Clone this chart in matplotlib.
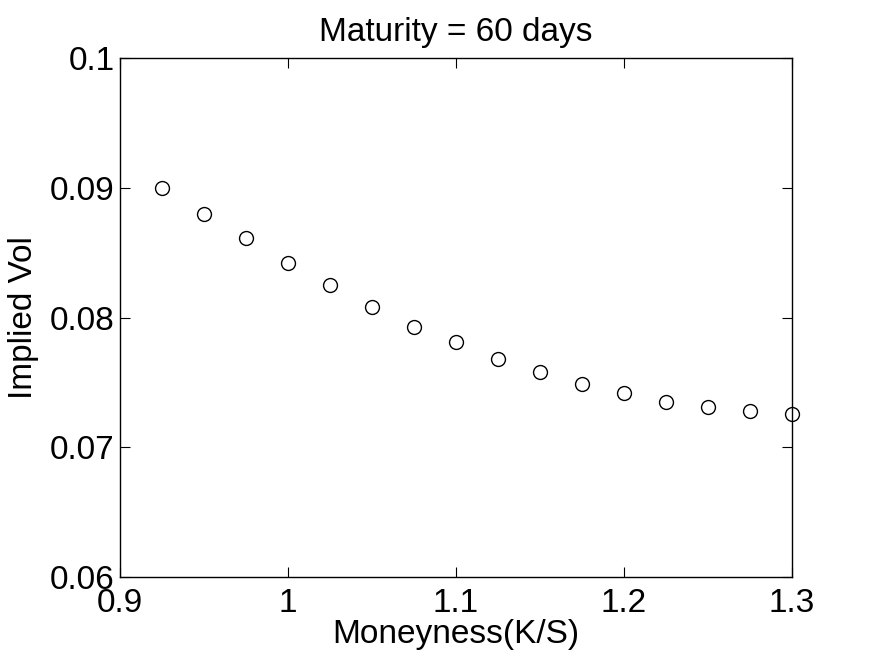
import numpy as np
import matplotlib
matplotlib.use('Agg')
import matplotlib.pyplot as plt

plt.rcParams['font.family'] = ['Liberation Sans', 'DejaVu Sans']

# moneyness grid and implied vols
moneyness = [0.925, 0.95, 0.975, 1.0, 1.025, 1.05, 1.075, 1.1,
             1.125, 1.15, 1.175, 1.2, 1.225, 1.25, 1.275, 1.3]
implied_vol = [0.0900, 0.0880, 0.0861, 0.0842, 0.0825, 0.0808, 0.0793, 0.0781,
               0.0768, 0.0758, 0.0749, 0.0742, 0.0735, 0.0731, 0.0728, 0.0726]
xticks = [0.9, 1.0, 1.1, 1.2, 1.3]
xticklabels = ['0.9', '1', '1.1', '1.2', '1.3']
yticks = [0.06, 0.07, 0.08, 0.09, 0.1]
yticklabels = ['0.06', '0.07', '0.08', '0.09', '0.1']

fig = plt.figure(figsize=(8.75, 6.59), dpi=100)
ax = fig.add_axes([0.1371, 0.1244, 0.768, 0.7876])
ax.plot(moneyness, implied_vol, 'o', mfc='none', mec='black', ms=10, mew=1.0,
        clip_on=False)
ax.set_xlim(0.9, 1.3)
ax.set_ylim(0.06, 0.1)
ax.set_xticks(xticks)
ax.set_xticklabels(xticklabels)
ax.set_yticks(yticks)
ax.set_yticklabels(yticklabels)
ax.tick_params(direction='in', top=True, right=True, length=7, width=0.8,
               labelsize=24)
ax.tick_params(axis='x', pad=8)
ax.tick_params(axis='y', pad=4)
for s in ax.spines.values():
    s.set_linewidth(1.0)
ax.set_xlabel('Moneyness(K/S)', fontsize=24, labelpad=0)
ax.set_ylabel('Implied Vol', fontsize=24, labelpad=8)
ax.set_title('Maturity = 60 days', fontsize=24, pad=12)

fig.savefig('out.png', dpi=100)
